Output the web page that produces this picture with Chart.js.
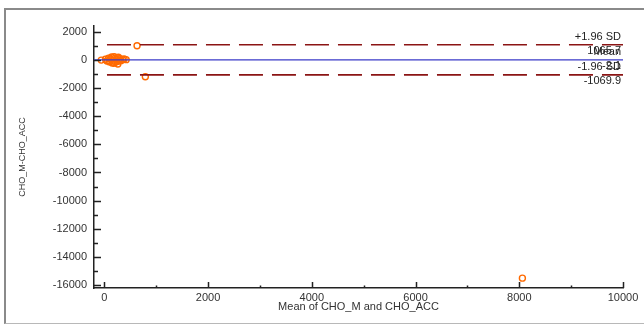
<!DOCTYPE html>
<html>
<head>
<meta charset="utf-8">
<script src="https://cdn.jsdelivr.net/npm/chart.js@4"></script>
<style>
  body { margin: 0; background: #fff; }
  #wrap { position: relative; width: 644px; height: 331px; overflow: hidden; }
  #frame { position: absolute; left: 4px; top: 8px; width: 700px; height: 313px;
           border-left: 2px solid #8a8a8a; border-top: 2px solid #8a8a8a; border-bottom: 1px solid #b8b8b8; }
  canvas { position: absolute; left: 0; top: 0; }
</style>
</head>
<body>
<div id="wrap">
  <div id="frame"></div>
  <canvas id="myChart" width="644" height="331"></canvas>
</div>
<script>
// means of the two methods (x) and their differences (y)
let meanValues = [-60, 20, 50, 80, 90, 100, 120, 140, 150, 160, 180, 190, 200, 210, 230, 240, 250, 260, 270, 280, 300, 320, 350, 380, 420, 630, 790, 8060];
let diffValues = [-20, 40, -80, 120, -60, -150, 60, 200, -220, -40, -250, 220, 100, -180, 30, -120, 150, -300, 180, -90, 80, -60, 20, 60, 10, 1000, -1200, -15500];

let meanDiff = -2.1;
let upperLimit = 1065.7;
let lowerLimit = -1069.9;
let limitNames = ["+1.96 SD", "Mean", "-1.96 SD"];
let limitTexts = ["1065.7", "-2.1", "-1069.9"];

let xTicks = [0, 2000, 4000, 6000, 8000, 10000];
let yTicks = [2000, 0, -2000, -4000, -6000, -8000, -10000, -12000, -14000, -16000];
let xRange = [-200, 10000];
let yRange = [-16200, 2400];

let points = meanValues.map((x, i) => ({ x: x, y: diffValues[i] }));

let insideTicks = {
  id: "insideTicks",
  afterDatasetsDraw(chart) {
    let c = chart.ctx;
    let xs = chart.scales.x, ys = chart.scales.y;
    let area = chart.chartArea;
    c.save();
    c.strokeStyle = "#222";
    c.lineWidth = 1.5;
    c.beginPath();
    ys.ticks.forEach(t => {
      let py = Math.round(ys.getPixelForValue(t.value)) + 0.5;
      c.moveTo(area.left, py); c.lineTo(area.left + 7, py);
      let m = t.value + 1000;
      if (m < ys.max) {
        let pm = Math.round(ys.getPixelForValue(m)) + 0.5;
        c.moveTo(area.left, pm); c.lineTo(area.left + 4, pm);
      }
    });
    xs.ticks.forEach(t => {
      let px = Math.round(xs.getPixelForValue(t.value)) + 0.5;
      c.moveTo(px, area.bottom); c.lineTo(px, area.bottom - 6);
      let m = t.value + 1000;
      if (m < xs.max) {
        let pm = Math.round(xs.getPixelForValue(m)) + 0.5;
        c.moveTo(pm, area.bottom); c.lineTo(pm, area.bottom - 2.5);
      }
    });
    c.stroke();

    // limit labels at the right end
    c.font = "11px 'Liberation Sans', Arial, sans-serif";
    c.fillStyle = "#222";
    c.textAlign = "right";
    c.textBaseline = "middle";
    [upperLimit, meanDiff, lowerLimit].forEach((v, i) => {
      let py = ys.getPixelForValue(v);
      c.fillText(limitNames[i], area.right - 2, py - 8);
      c.fillText(limitTexts[i], area.right - 2, py + 6);
    });
    c.restore();
  }
};

let ctx = document.getElementById("myChart").getContext("2d");
let myChart = new Chart(ctx, {
  type: "scatter",
  data: {
    datasets: [
      {
        data: [{ x: xRange[0], y: meanDiff }, { x: xRange[1], y: meanDiff }],
        type: "line",
        borderColor: "#3a3ac8",
        borderWidth: 1.2,
        pointRadius: 0,
      },
      {
        data: [{ x: 50, y: upperLimit }, { x: xRange[1], y: upperLimit }],
        type: "line",
        borderColor: "#8b1414",
        borderWidth: 1.6,
        borderDash: [24, 9],
        pointRadius: 0,
      },
      {
        data: [{ x: 50, y: lowerLimit }, { x: xRange[1], y: lowerLimit }],
        type: "line",
        borderColor: "#8b1414",
        borderWidth: 1.6,
        borderDash: [24, 9],
        pointRadius: 0,
      },
      {
        data: points,
        borderColor: "#ff6a00",
        backgroundColor: "rgba(255,255,255,0)",
        borderWidth: 1.4,
        pointRadius: 3,
        pointStyle: "circle",
      },
    ],
  },
  options: {
    responsive: false,
    animation: false,
    layout: { padding: { left: 0, top: 26, right: 21, bottom: 0 } },
    plugins: {
      legend: { display: false },
      tooltip: { enabled: false },
    },
    scales: {
      x: {
        type: "linear",
        min: xRange[0],
        max: xRange[1],
        afterFit: s => { s.height = 43; },
        afterBuildTicks: s => { s.ticks = xTicks.map(v => ({ value: v })); },
        grid: { display: false, drawTicks: false },
        border: { display: true, color: "#222", width: 1.5 },
        ticks: {
          padding: 3,
          color: "#333",
          font: { family: "'Liberation Sans', Arial", size: 11 },
          callback: v => String(v),
        },
        title: {
          display: true,
          text: "Mean of CHO_M and CHO_ACC",
          color: "#333",
          padding: { top: 0, bottom: 17 },
          font: { family: "'Liberation Sans', Arial", size: 11 },
        },
      },
      y: {
        type: "linear",
        min: yRange[0],
        max: yRange[1],
        afterFit: s => { s.width = 94; },
        afterBuildTicks: s => { s.ticks = yTicks.map(v => ({ value: v })); },
        grid: { display: false, drawTicks: false },
        border: { display: true, color: "#222", width: 1.5 },
        ticks: {
          padding: 7,
          color: "#333",
          font: { family: "'Liberation Sans', Arial", size: 11 },
          callback: v => String(v),
        },
        title: {
          display: true,
          text: "CHO_M-CHO_ACC",
          color: "#333",
          padding: { top: 17, bottom: 0 },
          font: { family: "'Liberation Sans', Arial", size: 9 },
        },
      },
    },
  },
  plugins: [insideTicks],
});
</script>
</body>
</html>
